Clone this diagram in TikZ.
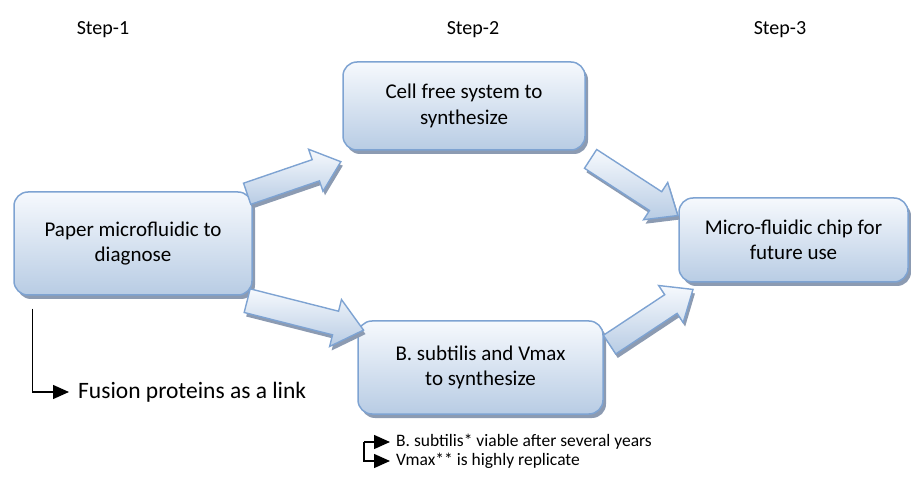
\documentclass[tikz,border=0pt]{standalone}
\usepackage{fontspec}
\setmainfont{Carlito}
\usepackage{tikz}
\usetikzlibrary{positioning,calc,shapes.arrows,shadows,arrows.meta}
\definecolor{boxedge}{RGB}{126,163,210}
\definecolor{boxtop}{RGB}{246,249,253}
\definecolor{boxbot}{RGB}{184,204,228}
\definecolor{boxshade}{RGB}{140,155,178}
\tikzset{x=1pt, y=-1pt}
\tikzset{box/.style={draw=boxedge, line width=1.5pt, rounded corners=14pt, top color=boxtop, bottom color=boxbot, align=center, font=\fontsize{21}{25.5}\selectfont, general shadow={fill=boxshade, shadow xshift=3pt, shadow yshift=-4pt}}}
\tikzset{barrow/.style={single arrow, draw=boxedge, line width=1.4pt, top color=boxtop, bottom color=boxbot, anchor=tail, inner xsep=0pt, single arrow tip angle=80, general shadow={fill=boxshade, shadow xshift=2pt, shadow yshift=-4pt}}}
\tikzset{steplabel/.style={font=\fontsize{20}{24}\selectfont}}
\tikzset{note/.style={anchor=west, inner sep=0pt, font=\fontsize{17.5}{21}\selectfont}}
\tikzset{link/.style={line width=1.4pt, -{Triangle[length=16pt,width=14pt]}}}

\begin{document}
\begin{tikzpicture}
    \useasboundingbox (0,0) rectangle (911,481);
    \node[steplabel] (s1) at (103,30) {Step-1};
    \node[steplabel] (s2) at (473,30) {Step-2};
    \node[steplabel] (s3) at (780,30) {Step-3};
    \node[box, minimum width=238, minimum height=103] (paper) at (133,243.5) {Paper microfluidic to\\diagnose};
    \node[box, minimum width=242, minimum height=88] (cellfree) at (464,106) {Cell free system to\\synthesize};
    \node[box, minimum width=229, minimum height=84] (chip) at (793.5,240) {Micro-fluidic chip for\\future use};
    \node[box, minimum width=245, minimum height=93] (subtilis) at (480.5,367.5) {B. subtilis and Vmax\\to synthesize};
    \node[barrow, minimum height=99, inner ysep=10.5pt, single arrow head extend=11pt, rotate=18.9] (a1) at (246.5,194) {};
    \node[barrow, minimum height=120, inner ysep=11.5pt, single arrow head extend=12pt, rotate=-14.2] (a2) at (246.5,300.5) {};
    \node[barrow, minimum height=104, inner ysep=10.5pt, single arrow head extend=11pt, rotate=-33] (a3) at (590,158.5) {};
    \node[barrow, minimum height=100, inner ysep=10.5pt, single arrow head extend=11pt, rotate=33.5] (a4) at (609,345) {};
    \node[note, font=\fontsize{23.5}{28}\selectfont] (fusion) at (78,392) {Fusion proteins as a link};
    \node[note] (viable) at (396,442) {B. subtilis* viable after several years};
    \node[note] (vmax) at (396,461) {Vmax** is highly replicate};
    \draw[link] ($(paper.south west)+(19,13)$) |- ([xshift=-9pt]fusion.west);
    \coordinate (fork) at (364,442);
    \draw[link] (fork) -- ([xshift=-6pt]viable.west);
    \draw[link] (fork) |- ([xshift=-6pt]vmax.west);
\end{tikzpicture}
\end{document}
